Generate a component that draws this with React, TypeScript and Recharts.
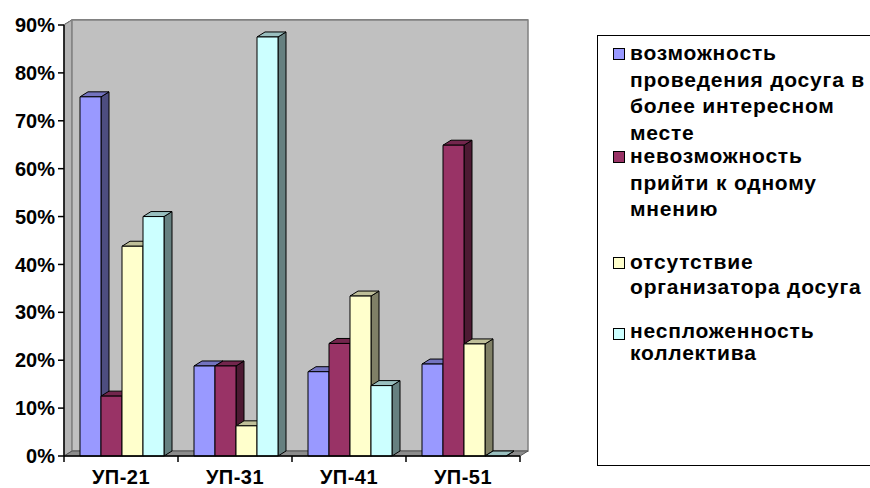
import { BarChart, Bar, XAxis, YAxis, CartesianGrid, ReferenceArea, Legend } from "recharts";

const categories = ["УП-21", "УП-31", "УП-41", "УП-51"];
const betterPlace = [75, 18.8, 17.6, 19.2];
const noAgreement = [12.5, 18.8, 23.5, 64.9];
const noOrganizer = [43.8, 6.3, 33.4, 23.4];
const noCohesion = [50, 87.5, 14.7, 0];
const yTicks = [0, 10, 20, 30, 40, 50, 60, 70, 80, 90];

const seriesNames = [
  "возможность\nпроведения досуга в\nболее интересном\nместе",
  "невозможность\nприйти к одному\nмнению",
  "отсутствие\nорганизатора досуга",
  "неспложенность\nколлектива",
];

const data = categories.map((name, i) => ({
  name,
  s0: betterPlace[i],
  s1: noAgreement[i],
  s2: noOrganizer[i],
  s3: noCohesion[i],
}));

// front / side / top shades
const palette = [
  { front: "#9999FF", side: "#4D4D80", top: "#7373BF" },
  { front: "#993366", side: "#4D1A33", top: "#73264D" },
  { front: "#FFFFCC", side: "#808066", top: "#BFBF99" },
  { front: "#CCFFFF", side: "#668080", top: "#99BFBF" },
];

const FONT = "'Liberation Sans', Arial, sans-serif";
const WALL_DX = 8;
const WALL_DY = 5;
const BAR_DX = 8;
const BAR_DY = 5;
const legendTops = [4, 107, 213, 284];
const legendLineHeights = [26.5, 26.5, 25, 22];

function Bar3D(props: any) {
  const { x, y, width, height, colors } = props;
  if (x == null || y == null) return null;
  const w = width;
  const h = Math.max(0, height);
  const stroke = { stroke: "#000", strokeWidth: 1, strokeLinejoin: "round" as const };
  return (
    <g>
      <polygon
        points={`${x + w},${y} ${x + w + BAR_DX},${y - BAR_DY} ${x + w + BAR_DX},${y + h - BAR_DY} ${x + w},${y + h}`}
        fill={colors.side}
        {...stroke}
      />
      <polygon
        points={`${x},${y} ${x + BAR_DX},${y - BAR_DY} ${x + w + BAR_DX},${y - BAR_DY} ${x + w},${y}`}
        fill={colors.top}
        {...stroke}
      />
      {h > 0 && <rect x={x} y={y} width={w} height={h} fill={colors.front} {...stroke} />}
    </g>
  );
}

function Walls(props: any) {
  const { x, y, width, height } = props;
  const b = y + height;
  return (
    <g>
      <polygon
        points={`${x},${y} ${x + WALL_DX},${y - WALL_DY} ${x + WALL_DX},${b - WALL_DY} ${x},${b}`}
        fill="#B4B4B4"
        stroke="#808080"
        strokeWidth={1}
      />
      <rect
        x={x + WALL_DX}
        y={y - WALL_DY}
        width={width}
        height={height}
        fill="#C0C0C0"
        stroke="#808080"
        strokeWidth={1.5}
      />
      <polygon
        points={`${x},${b} ${x + WALL_DX},${b - WALL_DY} ${x + width + WALL_DX},${b - WALL_DY} ${x + width},${b}`}
        fill="#8C8C8C"
        stroke="#555"
        strokeWidth={1}
      />
    </g>
  );
}

function GridLine(props: any) {
  const { x1, y1, x2, index } = props;
  if (y1 == null) return null;
  return (
    <polyline
      key={`g-${index}`}
      points={`${x1},${y1} ${x1 + WALL_DX},${y1 - WALL_DY} ${x2 + WALL_DX},${y1 - WALL_DY}`}
      fill="none"
      stroke="#111"
      strokeWidth={1.2}
    />
  );
}

function CategoryTick(props: any) {
  const { x, y, payload, index, visibleTicksCount, width } = props;
  const half = payload.offset ?? width / visibleTicksCount / 2;
  const axisY = y - 6;
  return (
    <g>
      <line x1={x - half} y1={axisY} x2={x - half} y2={axisY + 6} stroke="#000" strokeWidth={1.5} />
      {index === visibleTicksCount - 1 && (
        <line x1={x + half} y1={axisY} x2={x + half} y2={axisY + 6} stroke="#000" strokeWidth={1.5} />
      )}
      <text x={x} y={y + 22} textAnchor="middle" fontFamily={FONT} fontWeight="bold" fontSize={20} letterSpacing={0.5} fill="#000">
        {payload.value}
      </text>
    </g>
  );
}

function LegendBox({ payload }: any) {
  return (
    <div
      style={{
        position: "relative",
        width: 320,
        height: 431,
        border: "1.5px solid #000",
        boxSizing: "border-box",
        background: "#fff",
        fontFamily: FONT,
        fontWeight: "bold",
        fontSize: 21,
        letterSpacing: 0.8,
        color: "#000",
      }}
    >
      {(payload || []).map((item: any, i: number) => (
        <div key={i} style={{ position: "absolute", left: 15, top: legendTops[i], display: "flex" }}>
          <div
            style={{
              width: 10,
              height: 10,
              marginTop: 8,
              border: "1.5px solid #000",
              background: item.color,
              flex: "none",
            }}
          />
          <div style={{ marginLeft: 5, whiteSpace: "pre", lineHeight: `${legendLineHeights[i]}px` }}>{item.value}</div>
        </div>
      ))}
    </div>
  );
}

export default function App() {
  return (
    <div style={{ position: "absolute", left: 0, top: 0, width: 870, height: 488, overflow: "hidden", background: "#fff" }}>
      <BarChart
        width={870}
        height={488}
        data={data}
        margin={{ top: 25, right: 350, bottom: 0, left: 0 }}
        barCategoryGap={16}
        barGap={0}
      >
        <ReferenceArea y1={0} y2={90} shape={(p: any) => <Walls {...p} />} ifOverflow="visible" />
        <CartesianGrid vertical={false} horizontal={(p: any) => <GridLine {...p} />} />
        <XAxis
          dataKey="name"
          height={32}
          tickSize={6}
          tickMargin={0}
          tickLine={false}
          axisLine={{ stroke: "#000", strokeWidth: 1.5 }}
          tick={(p: any) => <CategoryTick {...p} />}
          interval={0}
        />
        <YAxis
          width={64}
          domain={[0, 90]}
          ticks={yTicks}
          tickFormatter={(v) => `${v}%`}
          tickSize={6}
          tickMargin={3}
          axisLine={{ stroke: "#000", strokeWidth: 1.5 }}
          tickLine={{ stroke: "#000", strokeWidth: 1.5 }}
          tick={{ fontFamily: FONT, fontWeight: "bold", fontSize: 20, fill: "#000" }}
          interval={0}
        />
        <Legend
          layout="vertical"
          align="center"
          verticalAlign="middle"
          itemSorter="dataKey"
          wrapperStyle={{ left: 597, top: 35, width: 320, height: 431 }}
          content={(p: any) => <LegendBox {...p} />}
        />
        {palette.map((c, i) => (
          <Bar
            key={i}
            dataKey={`s${i}`}
            name={seriesNames[i]}
            fill={c.front}
            isAnimationActive={false}
            shape={(p: any) => <Bar3D {...p} colors={c} />}
          />
        ))}
      </BarChart>
    </div>
  );
}
